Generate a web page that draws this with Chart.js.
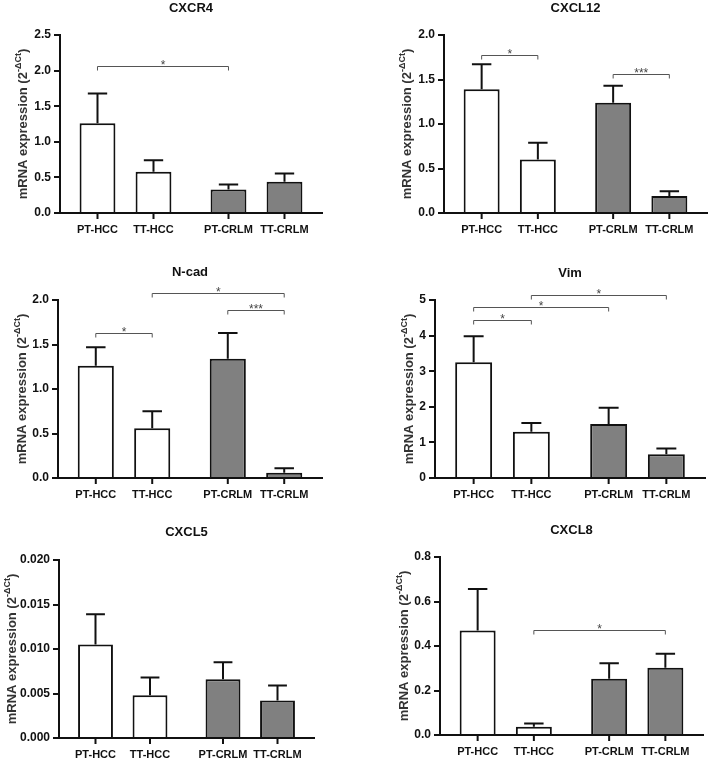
<!DOCTYPE html>
<html>
<head>
<meta charset="utf-8">
<script src="https://cdn.jsdelivr.net/npm/chart.js@4.4.0/dist/chart.umd.min.js"></script>
<style>
  body { margin: 0; background: #fff; }
  #wrap { position: relative; width: 708px; height: 761px; }
  #wrap canvas { position: absolute; }
</style>
</head>
<body>
<div id="wrap">
  <canvas id="cxcr4" width="354" height="254" style="left:0;top:0"></canvas>
  <canvas id="cxcl12" width="354" height="254" style="left:354px;top:0"></canvas>
  <canvas id="ncad" width="354" height="254" style="left:0;top:254px"></canvas>
  <canvas id="vim" width="354" height="254" style="left:354px;top:254px"></canvas>
  <canvas id="cxcl5" width="354" height="253" style="left:0;top:508px"></canvas>
  <canvas id="cxcl8" width="354" height="253" style="left:354px;top:508px"></canvas>
</div>
<script>
// bar order: PT-HCC, TT-HCC, PT-CRLM, TT-CRLM
const categories = ["PT-HCC", "TT-HCC", "PT-CRLM", "TT-CRLM"];
const groups = ["HCC", "CRLM"];

const cxcr4Mean = [1.26, 0.58, 0.33, 0.44];
const cxcr4Err = [0.42, 0.16, 0.07, 0.115];
const cxcr4Ticks = [0, 0.5, 1.0, 1.5, 2.0, 2.5];
const cxcr4Sig = [[0, 2, 2.06, "*"]];

const cxcl12Mean = [1.39, 0.60, 1.24, 0.19];
const cxcl12Err = [0.28, 0.19, 0.19, 0.055];
const cxcl12Ticks = [0, 0.5, 1.0, 1.5, 2.0];
const cxcl12Sig = [[0, 1, 1.78, "*"], [2, 3, 1.56, "***"]];

const ncadMean = [1.26, 0.56, 1.34, 0.06];
const ncadErr = [0.21, 0.19, 0.29, 0.05];
const ncadTicks = [0, 0.5, 1.0, 1.5, 2.0];
const ncadSig = [[0, 1, 1.63, "*"], [1, 3, 2.08, "*"], [2, 3, 1.89, "***"]];

const vimMean = [3.25, 1.30, 1.52, 0.67];
const vimErr = [0.73, 0.245, 0.45, 0.16];
const vimTicks = [0, 1, 2, 3, 4, 5];
const vimSig = [[0, 1, 4.44, "*"], [0, 2, 4.79, "*"], [1, 3, 5.14, "*"]];

const cxcl5Mean = [0.0105, 0.0048, 0.0066, 0.0042];
const cxcl5Err = [0.0034, 0.0020, 0.0019, 0.0017];
const cxcl5Ticks = [0, 0.005, 0.010, 0.015, 0.020];
const cxcl5Sig = [];

const cxcl8Mean = [0.47, 0.037, 0.253, 0.302];
const cxcl8Err = [0.186, 0.015, 0.069, 0.063];
const cxcl8Ticks = [0, 0.2, 0.4, 0.6, 0.8];
const cxcl8Sig = [[1, 3, 0.47, "*"]];

const barFill = ["#ffffff", "#808080"];
const FONT = "'Liberation Sans', Arial, sans-serif";

// draws error bars, x labels/ticks, significance brackets and the y title
const decor = {
  id: "decor",
  afterDraw(chart, args, o) {
    const ctx = chart.ctx;
    const ys = chart.scales.y;
    const area = chart.chartArea;
    const bars = categories.map((c, i) => chart.getDatasetMeta(i % 2).data[Math.floor(i / 2)]);
    ctx.save();

    // error bars (upper only)
    ctx.strokeStyle = "#111";
    ctx.lineWidth = 2;
    bars.forEach((bar, i) => {
      const top = ys.getPixelForValue(o.mean[i] + o.err[i]);
      const cap = bar.width * 0.27;
      ctx.beginPath();
      ctx.moveTo(bar.x, bar.y);
      ctx.lineTo(bar.x, top);
      ctx.moveTo(bar.x - cap, top);
      ctx.lineTo(bar.x + cap, top);
      ctx.stroke();
    });

    // category ticks + labels
    ctx.fillStyle = "#111";
    ctx.font = "bold 11px " + FONT;
    ctx.textAlign = "center";
    ctx.textBaseline = "middle";
    bars.forEach((bar, i) => {
      ctx.beginPath();
      ctx.moveTo(bar.x, area.bottom);
      ctx.lineTo(bar.x, area.bottom + 6);
      ctx.stroke();
      ctx.fillText(categories[i], bar.x, area.bottom + 17);
    });

    // significance brackets
    ctx.strokeStyle = "#555";
    ctx.fillStyle = "#444";
    ctx.lineWidth = 1;
    ctx.font = "12px " + FONT;
    ctx.textBaseline = "alphabetic";
    o.sig.forEach(([a, b, v, txt]) => {
      const yp = Math.round(ys.getPixelForValue(v)) + 0.5;
      const x1 = bars[a].x, x2 = bars[b].x;
      ctx.beginPath();
      ctx.moveTo(x1, yp + 4);
      ctx.lineTo(x1, yp);
      ctx.lineTo(x2, yp);
      ctx.lineTo(x2, yp + 4);
      ctx.stroke();
      ctx.fillText(txt, (x1 + x2) / 2, yp + 2);
    });

    // y title with superscript
    const main = "mRNA expression (2";
    const sup = "-\u0394Ct";
    const end = ")";
    const fMain = "bold 13px " + FONT;
    const fSup = "bold 9px " + FONT;
    ctx.font = fMain;
    const w1 = ctx.measureText(main).width;
    const w3 = ctx.measureText(end).width;
    ctx.font = fSup;
    const w2 = ctx.measureText(sup).width;
    const total = w1 + w2 + w3;
    ctx.translate(area.left - o.yGap, (area.top + area.bottom) / 2);
    ctx.rotate(-Math.PI / 2);
    ctx.fillStyle = "#333";
    ctx.textAlign = "left";
    ctx.textBaseline = "middle";
    let x = -total / 2;
    ctx.font = fMain;
    ctx.fillText(main, x, 0);
    x += w1;
    ctx.font = fSup;
    ctx.fillText(sup, x, -4);
    x += w2;
    ctx.font = fMain;
    ctx.fillText(end, x, 0);
    ctx.restore();
  }
};

function makePanel(id, title, mean, err, ticks, decimals, sig, box) {
  const canvas = document.getElementById(id);
  const W = canvas.width, H = canvas.height;
  const t1 = box.tc - 7.8;
  new Chart(canvas, {
    type: "bar",
    data: {
      labels: groups,
      datasets: [
        { data: [mean[0], mean[2]], backgroundColor: barFill },
        { data: [mean[1], mean[3]], backgroundColor: barFill }
      ]
    },
    options: {
      responsive: false,
      animation: false,
      events: [],
      layout: { padding: { left: 0, top: 0, bottom: 0, right: W - box.right } },
      datasets: {
        bar: {
          borderColor: "#111",
          borderWidth: 2,
          categoryPercentage: 0.855,
          barPercentage: 0.64
        }
      },
      plugins: {
        legend: { display: false },
        tooltip: { enabled: false },
        title: {
          display: true,
          text: title,
          fullSize: false,
          color: "#111",
          font: { family: FONT, size: 13, weight: "bold" },
          padding: { top: t1, bottom: box.top - box.tc - 7.8 }
        },
        decor: { mean: mean, err: err, sig: sig, yGap: box.yGap }
      },
      scales: {
        x: {
          ticks: { display: false },
          grid: { display: false },
          border: { display: true, color: "#111", width: 2 },
          afterFit: (s) => { s.height = H - box.bottom; }
        },
        y: {
          min: ticks[0],
          max: ticks[ticks.length - 1],
          afterBuildTicks: (s) => { s.ticks = ticks.map((v) => ({ value: v })); },
          afterFit: (s) => { s.width = box.left; },
          ticks: {
            color: "#111",
            padding: 3,
            font: { family: FONT, size: 12, weight: "bold" },
            callback: (v) => Number(v).toFixed(decimals)
          },
          grid: { drawOnChartArea: false, drawTicks: true, tickLength: 6, color: "#111", lineWidth: 2 },
          border: { display: true, color: "#111", width: 2 }
        }
      }
    },
    plugins: [decor]
  });
}

makePanel("cxcr4", "CXCR4", cxcr4Mean, cxcr4Err, cxcr4Ticks, 1, cxcr4Sig,
  { left: 60, right: 322, top: 35, bottom: 213, tc: 8, yGap: 37 });
makePanel("cxcl12", "CXCL12", cxcl12Mean, cxcl12Err, cxcl12Ticks, 1, cxcl12Sig,
  { left: 90, right: 353, top: 35, bottom: 213, tc: 8, yGap: 37 });
makePanel("ncad", "N-cad", ncadMean, ncadErr, ncadTicks, 1, ncadSig,
  { left: 58, right: 322, top: 46, bottom: 224, tc: 18, yGap: 36 });
makePanel("vim", "Vim", vimMean, vimErr, vimTicks, 0, vimSig,
  { left: 81, right: 351, top: 46, bottom: 224, tc: 19, yGap: 26 });
makePanel("cxcl5", "CXCL5", cxcl5Mean, cxcl5Err, cxcl5Ticks, 3, cxcl5Sig,
  { left: 59, right: 314, top: 52, bottom: 230, tc: 24, yGap: 47 });
makePanel("cxcl8", "CXCL8", cxcl8Mean, cxcl8Err, cxcl8Ticks, 1, cxcl8Sig,
  { left: 86, right: 349, top: 49, bottom: 227, tc: 22, yGap: 36 });
</script>
</body>
</html>
